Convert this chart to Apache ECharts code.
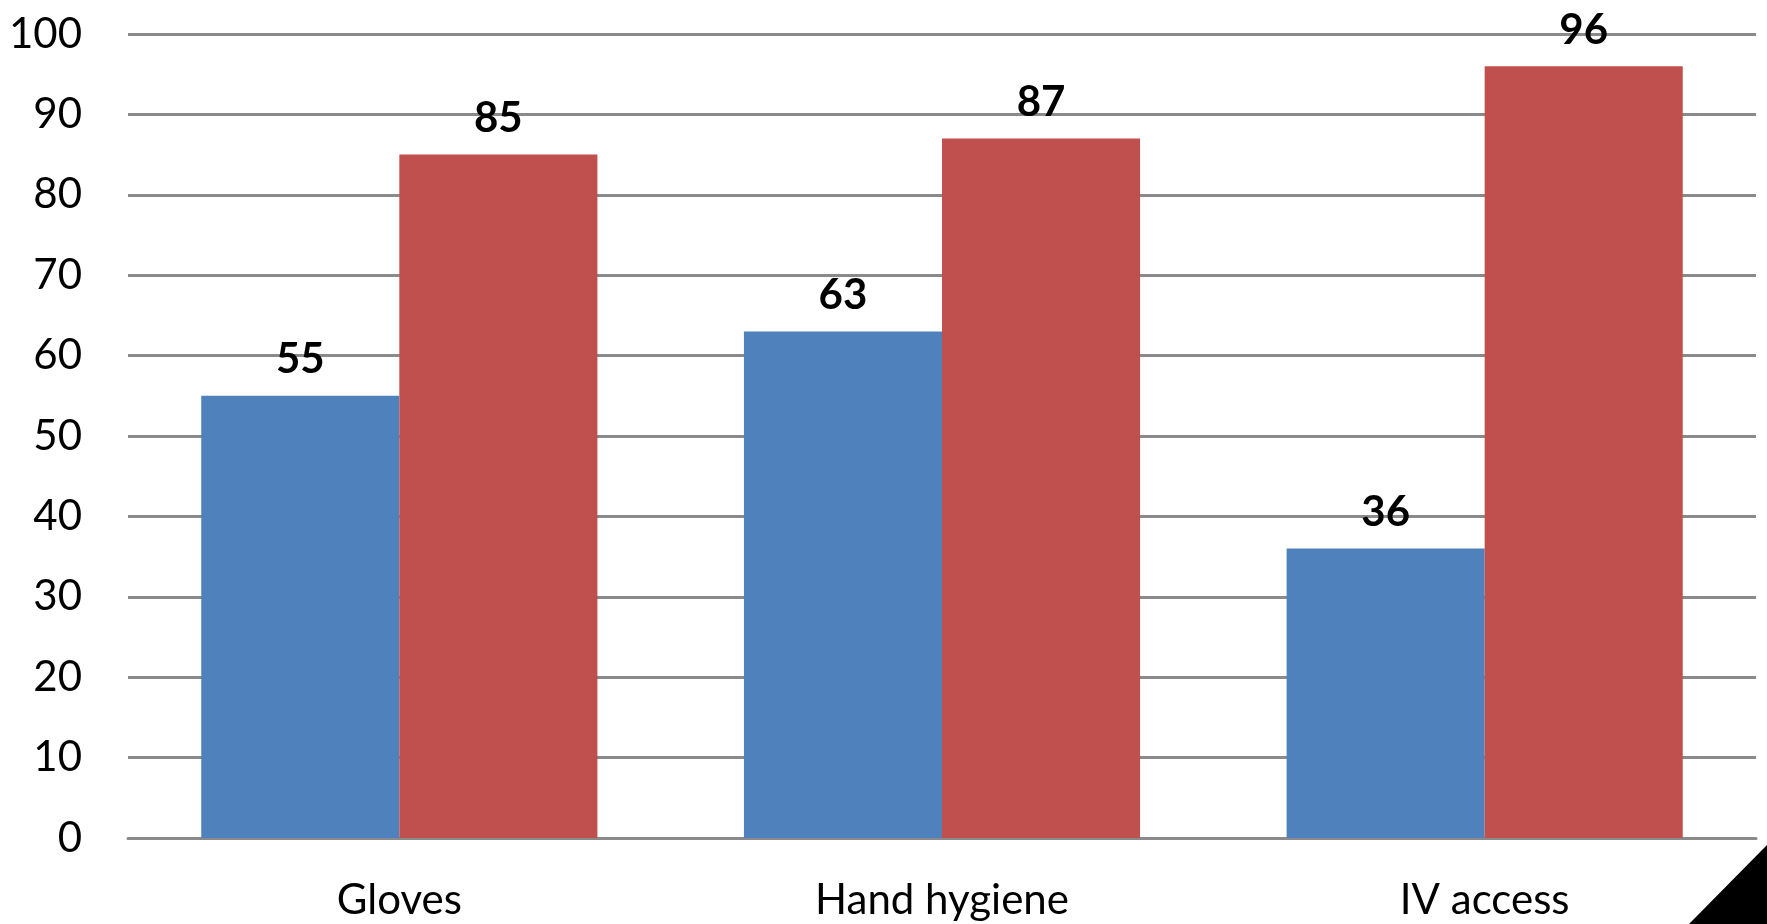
<!DOCTYPE html>
<html>
<head>
<meta charset="utf-8">
<style>
  html, body { margin: 0; padding: 0; background: #fff; }
  #chart { width: 1767px; height: 924px; }
</style>
<script src="https://cdn.jsdelivr.net/npm/echarts@6/dist/echarts.min.js"></script>
</head>
<body>
<div id="chart"></div>
<script>
// Categories and the two compared series
const categories = ['Gloves', 'Hand hygiene', 'IV access'];
const seriesBlue = [55, 63, 36];
const seriesRed = [85, 87, 96];
const yTicks = [0, 10, 20, 30, 40, 50, 60, 70, 80, 90, 100];

const FONT = 'Lato, "Open Sans", sans-serif';
const GRID_COLOR = '#8a8a8a';

const chart = echarts.init(document.getElementById('chart'), null, { renderer: 'canvas' });

const labelStyle = {
  show: true,
  position: 'top',
  distance: 15,
  color: '#000',
  fontFamily: FONT,
  fontWeight: 'bold',
  fontSize: 42
};

chart.setOption({
  backgroundColor: '#fff',
  animation: false,
  grid: { left: 128, right: 11, top: 34, bottom: 86, containLabel: false },
  xAxis: {
    type: 'category',
    data: categories,
    axisLine: { show: true, lineStyle: { color: GRID_COLOR, width: 3 } },
    axisTick: { show: false },
    axisLabel: { color: '#000', fontFamily: FONT, fontSize: 42, margin: 41 }
  },
  yAxis: {
    type: 'value',
    min: yTicks[0],
    max: yTicks[yTicks.length - 1],
    interval: yTicks[1] - yTicks[0],
    axisLine: { show: false },
    axisTick: { show: false },
    axisLabel: { color: '#000', fontFamily: FONT, fontSize: 42, margin: 46 },
    splitLine: { show: true, lineStyle: { color: GRID_COLOR, width: 3 } }
  },
  series: [
    {
      type: 'bar',
      data: seriesBlue,
      barGap: '0%',
      barCategoryGap: '27%',
      itemStyle: { color: '#4F81BD' },
      label: labelStyle
    },
    {
      type: 'bar',
      data: seriesRed,
      barGap: '0%',
      barCategoryGap: '27%',
      itemStyle: { color: '#C0504D' },
      label: labelStyle
    }
  ],
  graphic: [
    {
      // folded page corner in the lower right
      type: 'polygon',
      shape: { points: [[1689, 924], [1767, 845], [1767, 924]] },
      style: { fill: '#000' },
      silent: true
    }
  ]
});
</script>
</body>
</html>
